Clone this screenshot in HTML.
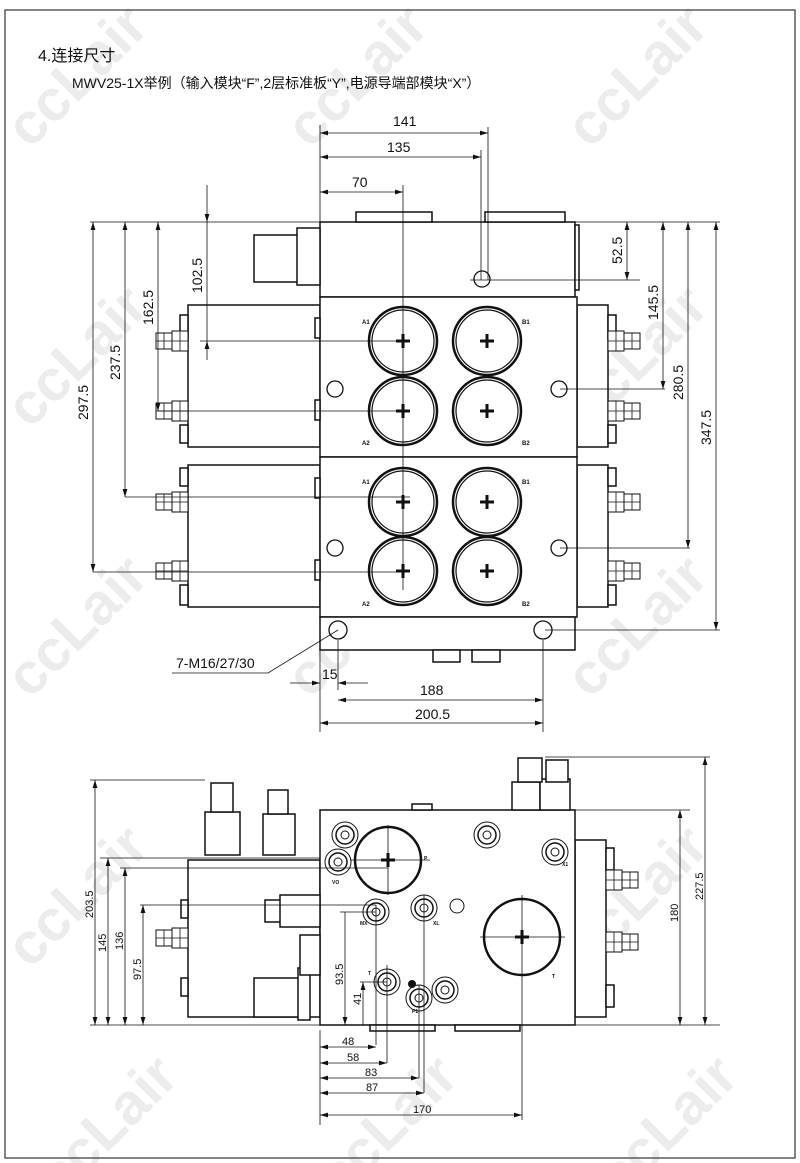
<!DOCTYPE html>
<html><head><meta charset="utf-8"><style>
html,body{margin:0;padding:0;background:#fff;}
svg{display:block;}
text{font-family:"Liberation Sans","Noto Sans CJK SC",sans-serif;fill:#111;}
.wm{fill:#ececec;font-size:58px;font-weight:bold;}
</style></head><body>
<svg width="800" height="1163" viewBox="0 0 800 1163" xmlns="http://www.w3.org/2000/svg">
<defs>
<marker id="a" viewBox="0 0 10 6" refX="10" refY="3" markerWidth="10" markerHeight="6" orient="auto-start-reverse"><path d="M0,0L10,3L0,6z" fill="#111"/></marker>
<g id="port"><circle r="34" fill="none" stroke="#111" stroke-width="2.5"/><circle r="31" fill="none" stroke="#111" stroke-width="1.2"/><path d="M-7,0H7M0,-7V7" stroke="#111" stroke-width="3"/></g>
<g id="conL"><rect x="-16" y="-10" width="16" height="20" fill="#fff" stroke="#111"/><rect x="-32" y="-8" width="16" height="16" fill="#fff" stroke="#111"/><path d="M-8,-10V10M-24,-8V8M-32,0H0" stroke="#111" stroke-width=".8"/></g>
<g id="sp"><circle r="13" fill="none" stroke="#111"/><circle r="9" fill="none" stroke="#111" stroke-width="1.5"/><circle r="4" fill="none" stroke="#111"/></g>
</defs>
<g>
<text class="wm" transform="translate(30,150) rotate(-45)">ccLair</text>
<text class="wm" transform="translate(310,150) rotate(-45)">ccLair</text>
<text class="wm" transform="translate(590,150) rotate(-45)">ccLair</text>
<text class="wm" transform="translate(30,430) rotate(-45)">ccLair</text>
<text class="wm" transform="translate(310,430) rotate(-45)">ccLair</text>
<text class="wm" transform="translate(590,430) rotate(-45)">ccLair</text>
<text class="wm" transform="translate(30,700) rotate(-45)">ccLair</text>
<text class="wm" transform="translate(310,700) rotate(-45)">ccLair</text>
<text class="wm" transform="translate(590,700) rotate(-45)">ccLair</text>
<text class="wm" transform="translate(30,970) rotate(-45)">ccLair</text>
<text class="wm" transform="translate(310,970) rotate(-45)">ccLair</text>
<text class="wm" transform="translate(590,970) rotate(-45)">ccLair</text>
<text class="wm" transform="translate(60,1200) rotate(-45)">ccLair</text>
<text class="wm" transform="translate(340,1200) rotate(-45)">ccLair</text>
<text class="wm" transform="translate(620,1200) rotate(-45)">ccLair</text>
</g>
<rect x="5" y="10" width="790" height="1148" fill="none" stroke="#333" stroke-width="1.2"/>
<text x="38" y="61" font-size="16">4.连接尺寸</text>
<text x="72" y="88" font-size="14">MWV25-1X举例（输入模块“F”,2层标准板“Y”,电源导端部模块“X”）</text>

<g stroke="#111" fill="#fff" stroke-width="1.5">
<rect x="320" y="222" width="255" height="75"/>
<rect x="575" y="225" width="4" height="65"/>
<rect x="356" y="212" width="76" height="10"/>
<rect x="485" y="212" width="80" height="10"/>
<rect x="254" y="235" width="46" height="47"/>
<rect x="297" y="228" width="23" height="57"/>
<rect x="188" y="305" width="132" height="142"/>
<rect x="577" y="305" width="31" height="142"/>
<rect x="320" y="297" width="257" height="160"/>
<rect x="188" y="465" width="132" height="142"/>
<rect x="577" y="465" width="31" height="142"/>
<rect x="320" y="457" width="257" height="160"/>
<rect x="320" y="617" width="255" height="33"/>
<rect x="433" y="650" width="27" height="12"/>
<rect x="472" y="650" width="28" height="12"/>
<rect x="180" y="315" width="8" height="24"/><rect x="180" y="425" width="8" height="18"/>
<rect x="180" y="468" width="8" height="18"/><rect x="180" y="585" width="8" height="20"/>
<rect x="608" y="315" width="8" height="24"/><rect x="608" y="425" width="8" height="18"/>
<rect x="608" y="468" width="8" height="18"/><rect x="608" y="585" width="8" height="20"/>
<rect x="315" y="318" width="5" height="20"/><rect x="315" y="400" width="5" height="20"/>
<rect x="315" y="478" width="5" height="20"/><rect x="315" y="560" width="5" height="20"/>
</g>
<g>
<use href="#conL" transform="translate(188,341)"/><use href="#conL" transform="translate(188,411)"/>
<use href="#conL" transform="translate(188,502)"/><use href="#conL" transform="translate(188,571)"/>
<use href="#conL" transform="translate(608,341) scale(-1,1)"/><use href="#conL" transform="translate(608,411) scale(-1,1)"/>
<use href="#conL" transform="translate(608,502) scale(-1,1)"/><use href="#conL" transform="translate(608,571) scale(-1,1)"/>
<use href="#port" x="403" y="341"/><use href="#port" x="487" y="341"/>
<use href="#port" x="403" y="411"/><use href="#port" x="487" y="411"/>
<use href="#port" x="403" y="502"/><use href="#port" x="487" y="502"/>
<use href="#port" x="403" y="571"/><use href="#port" x="487" y="571"/>
</g>
<g fill="none" stroke="#111" stroke-width="1.3">
<circle cx="482" cy="279" r="8"/><circle cx="335" cy="389" r="8"/><circle cx="559" cy="389" r="8"/>
<circle cx="335" cy="548" r="8"/><circle cx="559" cy="548" r="8"/><circle cx="338" cy="630" r="9"/><circle cx="543" cy="630" r="9"/>
</g>
<g font-size="6" font-weight="bold"><text x="362" y="324">A1</text><text x="522" y="324">B1</text><text x="362" y="445">A2</text><text x="522" y="445">B2</text>
<text x="362" y="484">A1</text><text x="522" y="484">B1</text><text x="362" y="606">A2</text><text x="522" y="606">B2</text></g>

<g stroke="#111" stroke-width=".8" fill="none">
<path d="M320,125V222M488,127V280M481,150V280M403,185V590M90,222H720M470,280H640M560,389H665M560,548H690M545,630H720"/>
<path d="M200,341H410M158,411H410M125,497H410M93,572H410"/>
<path d="M320,133H488" marker-start="url(#a)" marker-end="url(#a)"/>
<path d="M320,157H481" marker-start="url(#a)" marker-end="url(#a)"/>
<path d="M320,192H403" marker-start="url(#a)" marker-end="url(#a)"/>
<path d="M93,222V572" marker-start="url(#a)" marker-end="url(#a)"/>
<path d="M125,222V497" marker-start="url(#a)" marker-end="url(#a)"/>
<path d="M158,222V411" marker-start="url(#a)" marker-end="url(#a)"/>
<path d="M207,185V222" marker-end="url(#a)"/><path d="M207,360V341" marker-end="url(#a)"/><path d="M207,222V341"/>
<path d="M627,222V280" marker-start="url(#a)" marker-end="url(#a)"/>
<path d="M663,222V389" marker-start="url(#a)" marker-end="url(#a)"/>
<path d="M688,222V548" marker-start="url(#a)" marker-end="url(#a)"/>
<path d="M716,222V630" marker-start="url(#a)" marker-end="url(#a)"/>
<path d="M320,640V732M338,640V690M543,640V732"/>
<path d="M290,683H320" marker-end="url(#a)"/><path d="M368,683H338" marker-end="url(#a)"/>
<path d="M338,700H543" marker-start="url(#a)" marker-end="url(#a)"/>
<path d="M320,723H543" marker-start="url(#a)" marker-end="url(#a)"/>
<path d="M172,673H268L338,630"/>
</g>
<g font-size="14">
<text x="393" y="126">141</text><text x="387" y="152">135</text><text x="352" y="187">70</text>
<text transform="translate(88,420) rotate(-90)">297.5</text>
<text transform="translate(120,380) rotate(-90)">237.5</text>
<text transform="translate(153,325) rotate(-90)">162.5</text>
<text transform="translate(202,293) rotate(-90)">102.5</text>
<text transform="translate(622,264) rotate(-90)">52.5</text>
<text transform="translate(658,320) rotate(-90)">145.5</text>
<text transform="translate(683,400) rotate(-90)">280.5</text>
<text transform="translate(711,445) rotate(-90)">347.5</text>
<text x="176" y="668">7-M16/27/30</text>
<text x="322" y="679">15</text><text x="420" y="695">188</text><text x="415" y="719">200.5</text>
</g>

<g stroke="#111" fill="#fff" stroke-width="1.5">
<rect x="188" y="860" width="132" height="157"/>
<rect x="575" y="840" width="31" height="177"/>
<rect x="320" y="810" width="255" height="215"/>
<rect x="370" y="1025" width="65" height="6"/><rect x="455" y="1025" width="65" height="6"/>
<rect x="412" y="804" width="20" height="6"/>
<rect x="205" y="812" width="35" height="43"/><rect x="211" y="783" width="22" height="29"/>
<rect x="263" y="814" width="32" height="41"/><rect x="268" y="790" width="20" height="24"/>
<rect x="254" y="978" width="46" height="39"/><rect x="298" y="968" width="12" height="52"/>
<rect x="512" y="782" width="28" height="28"/><rect x="540" y="779" width="30" height="31"/>
<rect x="518" y="758" width="24" height="24"/><rect x="546" y="760" width="22" height="22"/>
<rect x="300" y="935" width="20" height="40"/><rect x="265" y="900" width="35" height="22"/><rect x="280" y="895" width="40" height="32"/>
<rect x="181" y="900" width="7" height="18"/><rect x="181" y="978" width="7" height="18"/>
<rect x="606" y="848" width="8" height="22"/><rect x="606" y="985" width="8" height="22"/>
</g>
<g>
<use href="#conL" transform="translate(188,938)"/>
<use href="#conL" transform="translate(606,880) scale(-1,1)"/><use href="#conL" transform="translate(606,942) scale(-1,1)"/>
<use href="#sp" x="345" y="835"/><use href="#sp" x="487" y="835"/><use href="#sp" x="555" y="852"/>
<use href="#sp" x="338" y="862"/><use href="#sp" x="376" y="912"/><use href="#sp" x="424" y="908"/>
<use href="#sp" x="387" y="982"/><use href="#sp" x="445" y="990"/><use href="#sp" x="419" y="998"/>
<circle cx="457" cy="906" r="7" fill="none" stroke="#111"/><circle cx="412" cy="984" r="4" fill="#111"/>
<circle cx="388" cy="860" r="33" fill="none" stroke="#111" stroke-width="2.5"/>
<circle cx="522" cy="937" r="38" fill="none" stroke="#111" stroke-width="2.5"/>
<path d="M381,860H395M388,853V867M515,937H529M522,930V944" stroke="#111" stroke-width="3"/>
</g>
<g font-size="5" font-weight="bold"><text x="332" y="884">VO</text><text x="424" y="860">P</text><text x="562" y="866">X1</text>
<text x="360" y="925">MX</text><text x="433" y="925">XL</text><text x="368" y="975">T</text><text x="412" y="1013">P1</text><text x="552" y="978">T</text></g>
<g stroke="#111" stroke-width=".8" fill="none">
<path d="M90,1025H720M90,780H205M100,858H320M120,868H388M140,905H376M575,810H690M545,757H710"/>
<path d="M388,825V895M350,860H430M522,895V1120M480,937H565M376,905V1045M387,965V1063M419,985V1078M424,895V1093M320,1030V1125"/>
<path d="M95,780V1025" marker-start="url(#a)" marker-end="url(#a)"/>
<path d="M108,858V1025" marker-start="url(#a)" marker-end="url(#a)"/>
<path d="M125,868V1025" marker-start="url(#a)" marker-end="url(#a)"/>
<path d="M143,905V1025" marker-start="url(#a)" marker-end="url(#a)"/>
<path d="M345,912V1025" marker-end="url(#a)"/><path d="M340,912H376"/>
<path d="M363,982V1025" marker-start="url(#a)"/><path d="M360,982H387"/>
<path d="M680,810V1025" marker-start="url(#a)" marker-end="url(#a)"/>
<path d="M705,757V1025" marker-start="url(#a)" marker-end="url(#a)"/>
<path d="M320,1047H376" marker-start="url(#a)" marker-end="url(#a)"/>
<path d="M320,1063H387" marker-start="url(#a)" marker-end="url(#a)"/>
<path d="M320,1078H419" marker-start="url(#a)" marker-end="url(#a)"/>
<path d="M320,1093H424" marker-start="url(#a)" marker-end="url(#a)"/>
<path d="M320,1115H522" marker-start="url(#a)" marker-end="url(#a)"/>
</g>
<g font-size="11">
<text transform="translate(93,918) rotate(-90)">203.5</text>
<text transform="translate(106,952) rotate(-90)">145</text>
<text transform="translate(123,950) rotate(-90)">136</text>
<text transform="translate(141,980) rotate(-90)">97.5</text>
<text transform="translate(343,985) rotate(-90)">93.5</text>
<text transform="translate(361,1005) rotate(-90)">41</text>
<text transform="translate(678,922) rotate(-90)">180</text>
<text transform="translate(703,900) rotate(-90)">227.5</text>
<text x="342" y="1045">48</text><text x="347" y="1061">58</text><text x="365" y="1076">83</text>
<text x="366" y="1091">87</text><text x="413" y="1113">170</text>
</g>
</svg>
</body></html>
